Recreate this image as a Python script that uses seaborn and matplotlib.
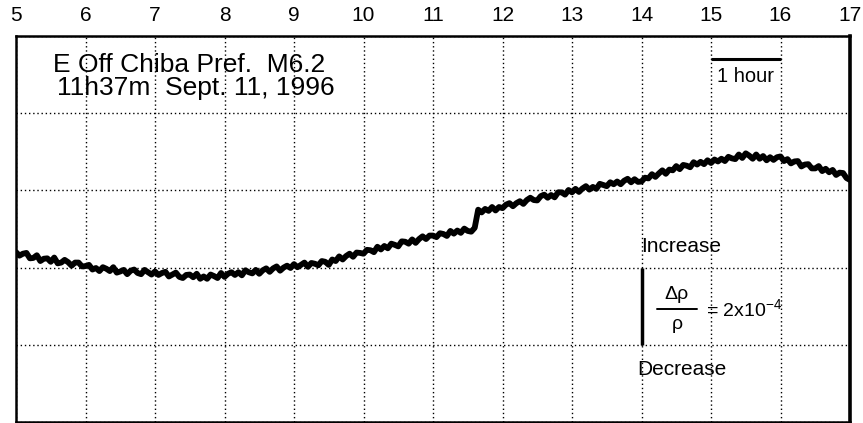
import matplotlib
matplotlib.use("Agg")
import matplotlib.pyplot as plt
import numpy as np
import pandas as pd
import seaborn as sns

## ===================== data =====================

# sampling: every 0.05 h (3 min) from 5 h to 17 h
t_start = 5.0
t_step = 0.05

# relative resistivity change, units of 1e-4, one row per hour of record
hour5 = [4.40, 4.31, 4.36, 4.38, 4.24, 4.25, 4.32, 4.17, 4.23, 4.24, 4.15, 4.26, 4.11, 4.13, 4.20, 4.14, 4.05, 4.13, 4.13, 4.03]
hour6 = [4.04, 4.07, 3.95, 3.99, 3.91, 4.01, 3.97, 3.91, 4.01, 3.87, 3.90, 3.94, 3.83, 3.92, 3.95, 3.86, 3.83, 3.94, 3.88, 3.82]
hour7 = [3.90, 3.81, 3.86, 3.89, 3.77, 3.82, 3.87, 3.76, 3.73, 3.81, 3.82, 3.75, 3.84, 3.71, 3.77, 3.71, 3.82, 3.78, 3.73, 3.86]
hour8 = [3.76, 3.84, 3.88, 3.81, 3.88, 3.80, 3.93, 3.88, 3.85, 3.94, 3.84, 3.93, 3.98, 3.89, 3.98, 4.03, 3.92, 4.00, 4.05, 3.99]
hour9 = [4.09, 4.01, 4.07, 4.13, 4.02, 4.12, 4.10, 4.06, 4.17, 4.15, 4.07, 4.21, 4.17, 4.29, 4.21, 4.30, 4.36, 4.28, 4.39, 4.38]
hour10 = [4.36, 4.46, 4.45, 4.40, 4.54, 4.47, 4.56, 4.50, 4.62, 4.59, 4.55, 4.68, 4.67, 4.62, 4.73, 4.64, 4.74, 4.81, 4.74, 4.83]
# step at 11h37m (quake)
hour11 = [4.83, 4.79, 4.89, 4.87, 4.82, 4.95, 4.88, 4.96, 4.90, 5.01, 4.95, 4.93, 5.03, 5.50, 5.43, 5.52, 5.47, 5.57, 5.48, 5.57]
hour12 = [5.54, 5.63, 5.67, 5.59, 5.67, 5.72, 5.65, 5.75, 5.81, 5.75, 5.74, 5.85, 5.89, 5.81, 5.88, 5.82, 5.95, 5.95, 5.89, 6.01]
hour13 = [5.95, 6.04, 5.96, 6.05, 6.11, 6.02, 6.09, 6.04, 6.17, 6.14, 6.11, 6.21, 6.16, 6.23, 6.16, 6.25, 6.30, 6.21, 6.29, 6.22]
hour14 = [6.23, 6.33, 6.31, 6.42, 6.35, 6.44, 6.52, 6.43, 6.54, 6.52, 6.63, 6.55, 6.66, 6.64, 6.60, 6.73, 6.67, 6.74, 6.68, 6.78]
hour15 = [6.71, 6.80, 6.75, 6.82, 6.76, 6.87, 6.83, 6.81, 6.93, 6.84, 6.96, 6.90, 6.82, 6.93, 6.82, 6.89, 6.78, 6.86, 6.79, 6.86]
hour16 = [6.88, 6.76, 6.81, 6.70, 6.75, 6.76, 6.62, 6.67, 6.68, 6.57, 6.57, 6.63, 6.50, 6.56, 6.47, 6.53, 6.40, 6.46, 6.45, 6.32]
hour17 = [6.27]

hour_ticks = list(range(5, 18))
level_ticks = [0, 2, 4, 6, 8, 10]

title_1 = "E Off Chiba Pref.  M6.2"
title_2 = "11h37m  Sept. 11, 1996"

## ===================== build frame =====================

values = hour5 + hour6 + hour7 + hour8 + hour9 + hour10 + hour11 + hour12 + hour13 + hour14 + hour15 + hour16 + hour17
hours = t_start + t_step * np.arange(len(values))
df = pd.DataFrame({"hour": hours, "drho": values})

## ===================== draw =====================

sns.set_style("white")
plt.rcParams["font.family"] = ["Liberation Sans", "DejaVu Sans"]
plt.rcParams["text.color"] = "black"
plt.rcParams["xtick.color"] = "black"
plt.rcParams["mathtext.fontset"] = "custom"
plt.rcParams["mathtext.rm"] = "Liberation Sans"
plt.rcParams["mathtext.it"] = "Liberation Sans:italic"

fig = plt.figure(figsize = (8.63, 4.23), dpi = 100)
ax = fig.add_axes([16 / 863, 1 / 423, 834 / 863, 386 / 423])

sns.lineplot(data = df, x = "hour", y = "drho", ax = ax, color = "black", lw = 4.2, zorder = 3)

ax.set_xlim(5, 17)
ax.set_ylim(0, 10)
ax.set_xticks(hour_ticks)
ax.set_yticks(level_ticks)
ax.set_yticklabels([])
ax.xaxis.tick_top()
ax.tick_params(axis = "x", length = 0, pad = 8, labelsize = 15, labelcolor = "black")
ax.tick_params(axis = "y", length = 0)
ax.set_xlabel("")
ax.set_ylabel("")
ax.grid(True, linestyle = (0, (1, 2)), color = "black", lw = 1.0, zorder = 1)
for side in ["left", "right", "top", "bottom"]:
    ax.spines[side].set_color("black")
    ax.spines[side].set_linewidth(1.8)
ax.spines["right"].set_linewidth(2.6)

# event label
ax.text(5.53, 9.25, title_1, fontsize = 19, va = "center", ha = "left", zorder = 4)
ax.text(5.59, 8.66, title_2, fontsize = 19, va = "center", ha = "left", zorder = 4)

# time scale bar
ax.plot([15, 16], [9.41, 9.41], color = "black", lw = 2.2, solid_capstyle = "butt")
ax.text(15.5, 8.94, "1 hour", fontsize = 14.5, ha = "center", va = "center")

# resistivity scale bar
ax.plot([14, 14], [2, 4], color = "black", lw = 2.5, solid_capstyle = "butt", zorder = 4)
ax.text(13.99, 4.55, "Increase", fontsize = 15, ha = "left", va = "center")
ax.text(13.94, 1.37, "Decrease", fontsize = 15, ha = "left", va = "center")
ax.text(14.51, 3.31, "\u0394\u03c1", fontsize = 14, ha = "center", va = "center")
ax.plot([14.22, 14.80], [2.92, 2.92], color = "black", lw = 1.4)
ax.text(14.51, 2.53, "\u03c1", fontsize = 14, ha = "center", va = "center")
ax.text(14.93, 2.92, r"= 2x10$^{\mathregular{-4}}$", fontsize = 14, ha = "left", va = "center")

plt.savefig("out.png", dpi = 100)
